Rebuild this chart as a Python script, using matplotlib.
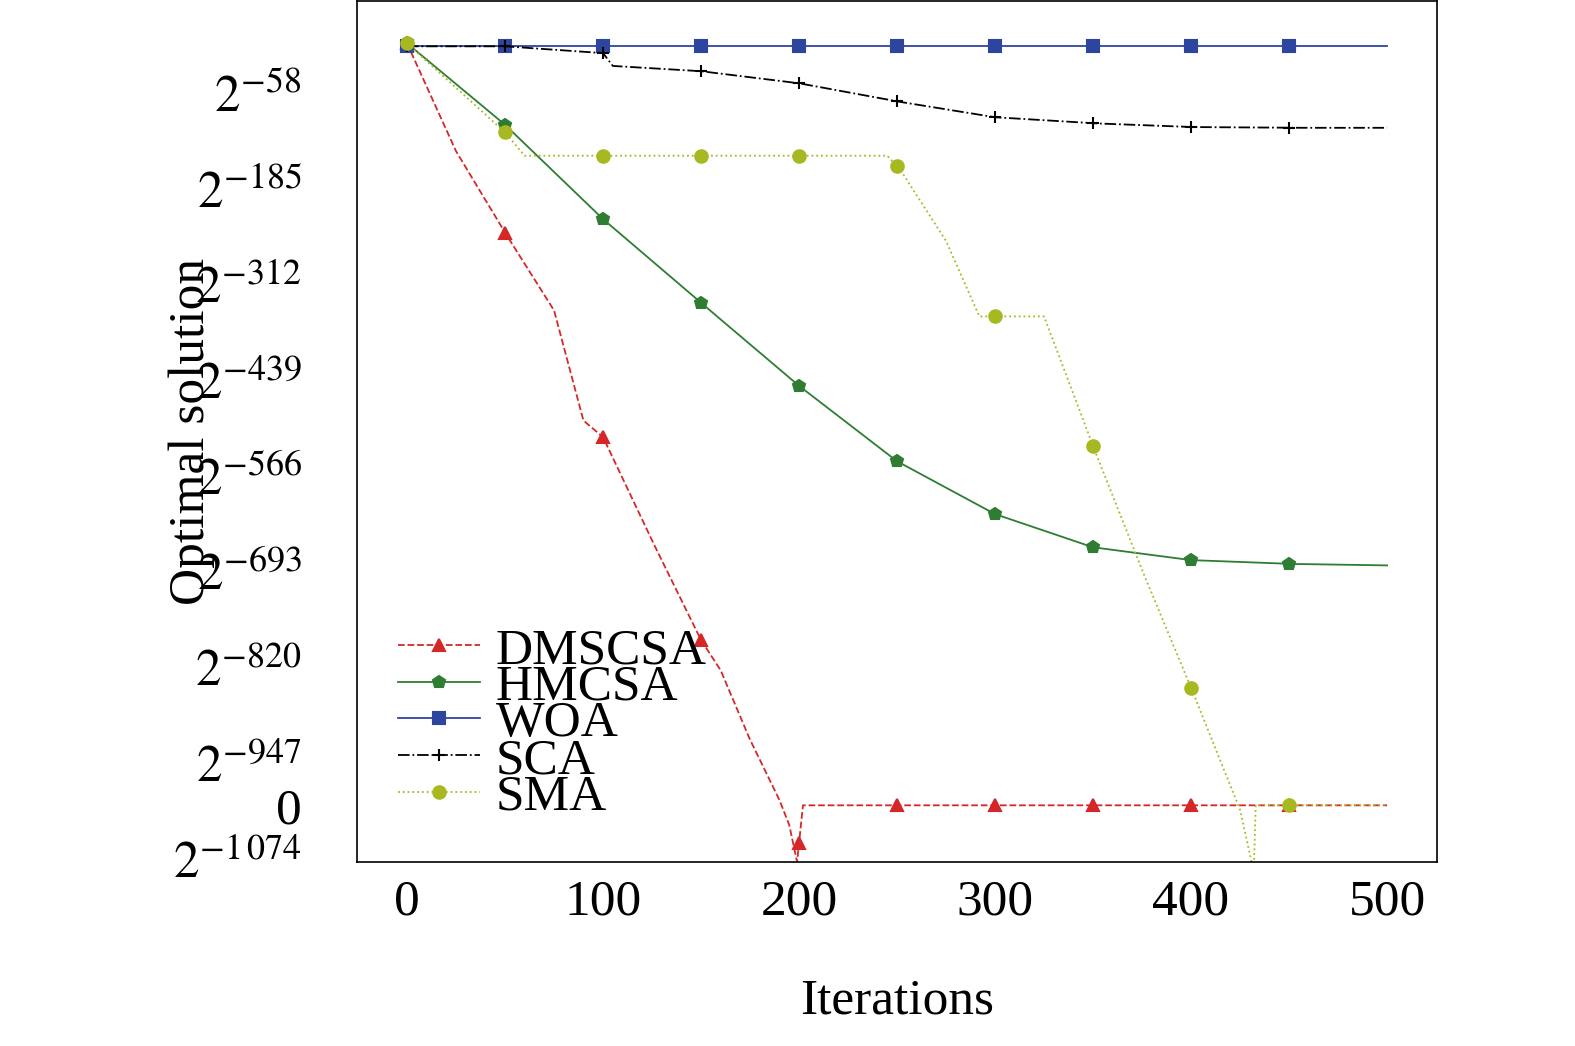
import numpy as np
import matplotlib
matplotlib.use("Agg")
import matplotlib.pyplot as plt

plt.rcParams['font.family'] = ['Liberation Serif', 'DejaVu Serif']
plt.rcParams['mathtext.fontset'] = 'stix'

# values are log2 exponents; ZERO marks the level used to show an exact 0
ZERO = -1002

dms_x = [0, 25, 50, 75, 90, 100, 125, 150, 160, 175, 190, 195, 199, 202, 250, 300, 350, 400, 450, 500]
dms_y = [8, -135, -243, -346, -492, -514, -651, -783, -823, -915, -995, -1028, -1077, ZERO, ZERO, ZERO, ZERO, ZERO, ZERO, ZERO]

hm_x = [0, 50, 100, 150, 200, 250, 300, 350, 400, 450, 500]
hm_y = [8, -100, -225, -336, -446, -546, -616, -660, -677, -682, -684]

woa_x = [0, 500]
woa_y = [4, 4]

sca_x = [0, 50, 100, 105, 150, 200, 250, 300, 350, 400, 450, 500]
sca_y = [4, 4, -5, -22, -29, -45, -69, -90, -98, -103, -104, -104]

sma_x = [0, 50, 60, 100, 150, 200, 245, 252, 275, 292, 300, 325, 350, 375, 400, 425, 432, 433, 450, 500]
sma_y = [8, -110, -141, -141, -141, -141, -141, -161, -254, -354, -354, -354, -526, -690, -846, -1008, -1090, ZERO, ZERO, ZERO]

ytick_vals = [-58, -185, -312, -439, -566, -693, -820, -947]
ytick_labels = [r'$2^{%d}$' % v for v in ytick_vals]


def resample(xs, ys):
    x = np.arange(0, 501)
    return x, np.interp(x, xs, ys)


fig = plt.figure(figsize=(15.75, 10.46), dpi=100)
ax = fig.add_axes([0.2267, 0.176, 0.6857, 0.823])

series = [
    ("DMSCSA", dms_x, dms_y, '#d62728', '--', '^'),
    ("HMCSA", hm_x, hm_y, '#2e7d32', '-', 'p'),
    ("WOA", woa_x, woa_y, '#2e45a0', '-', 's'),
    ("SCA", sca_x, sca_y, 'black', '-.', '+'),
    ("SMA", sma_x, sma_y, '#a8b820', ':', 'o'),
]
for name, xs, ys, c, ls, mk in series:
    x, y = resample(xs, ys)
    ax.plot(x, y, color=c, linestyle=ls, lw=1.3, marker=mk, markevery=list(range(0, 500, 50)),
            markersize=9, mew=1.5, label=name)

ax.set_xlim(-25.5, 525.5)
ax.set_ylim(-1077, 64)
ax.set_xticks([0, 100, 200, 300, 400, 500])
ax.set_yticks(ytick_vals + [ZERO, -1074])
ax.set_yticklabels(ytick_labels + ['0', r'$2^{-1\,074}$'])
ax.tick_params(labelsize=37, direction='out', length=0, pad=12)
ax.tick_params(axis='y', pad=40)
for lbl in ax.get_yticklabels():
    lbl.set_horizontalalignment('right')
ax.set_xlabel('Iterations', fontsize=37, labelpad=38)
ax.set_ylabel('Optimal solution', fontsize=37, labelpad=-30)
for s in ax.spines.values():
    s.set_linewidth(1.2)

ax.legend(loc='lower left', bbox_to_anchor=(0.0, 0.0), fontsize=37, frameon=False,
          handlelength=1.6, handletextpad=0.3, labelspacing=-0.2, borderaxespad=0.4)

fig.savefig('out.png', dpi=100)
